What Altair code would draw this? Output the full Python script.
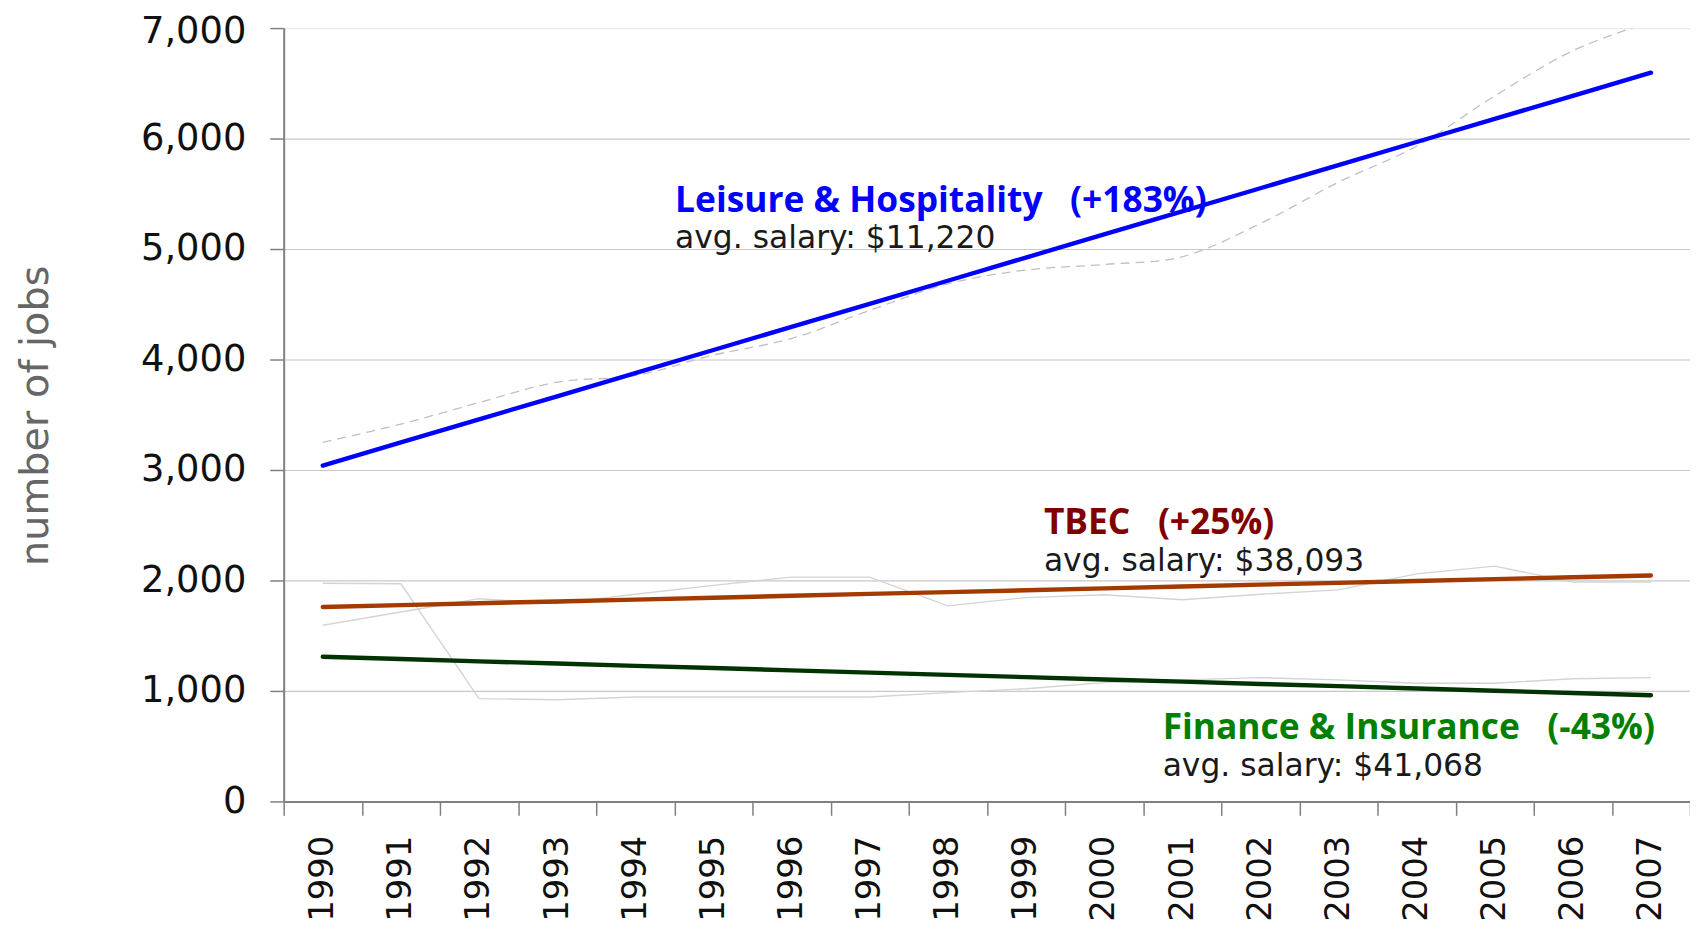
import altair as alt
import pandas as pd

# ---------------- data ----------------
years = ["1990", "1991", "1992", "1993", "1994", "1995", "1996", "1997", "1998",
         "1999", "2000", "2001", "2002", "2003", "2004", "2005", "2006", "2007"]

# trend lines
leisure_trend = [3040, 3249, 3458, 3667, 3877, 4086, 4295, 4504, 4713,
                 4923, 5132, 5341, 5550, 5759, 5969, 6178, 6387, 6596]
tbec_trend = [1760, 1777, 1794, 1810, 1827, 1844, 1861, 1878, 1894,
              1911, 1928, 1945, 1962, 1978, 1995, 2012, 2029, 2045]
finance_trend = [1309, 1289, 1268, 1248, 1227, 1207, 1186, 1166, 1145,
                 1125, 1104, 1084, 1063, 1043, 1022, 1002, 981, 961]

# actual (grey) series
leisure_actual = [3250, 3415, 3610, 3795, 3855, 4040, 4190, 4445, 4685,
                  4810, 4860, 4930, 5230, 5605, 5930, 6385, 6795, 7060]
tbec_actual = [1595, 1715, 1835, 1790, 1875, 1955, 2030, 2030, 1770,
               1845, 1870, 1825, 1875, 1915, 2060, 2130, 1985, 1985]
finance_actual = [1975, 1970, 930, 920, 945, 945, 945, 945, 985,
                  1020, 1075, 1100, 1120, 1100, 1070, 1070, 1110, 1120]

series_names = ["Leisure & Hospitality", "TBEC", "Finance & Insurance"]
anno_titles = ["Leisure & Hospitality\u00a0\u00a0 (+183%)", "TBEC\u00a0\u00a0 (+25%)",
               "Finance & Insurance\u00a0\u00a0 (-43%)"]
anno_salaries = ["avg. salary: $11,220", "avg. salary: $38,093", "avg. salary: $41,068"]
anno_x = [1994.51, 1999.23, 2000.75]      # in year units
anno_title_y = [5335, 2425, 565]          # in jobs
anno_salary_y = [5005, 2090, 226]         # in jobs

y_ticks = [0, 1000, 2000, 3000, 4000, 5000, 6000, 7000]

# ---------------- styles ----------------
trend_colors = ["#0000FF", "#A33A00", "#003300"]
label_colors = ["#0000FF", "#800000", "#008000"]
AXIS_FONT = "DejaVu Sans"

# ---------------- tables ----------------
trend_df = pd.DataFrame({
    "year": years * 3,
    "value": leisure_trend + tbec_trend + finance_trend,
    "series": [n for n in series_names for _ in years],
})
actual_df = pd.DataFrame({
    "year": years * 2,
    "value": tbec_actual + finance_actual,
    "series": [n for n in series_names[1:] for _ in years],
})
leisure_df = pd.DataFrame({"year": years, "value": leisure_actual})
title_df = pd.DataFrame({"series": series_names, "label": anno_titles,
                         "x": anno_x, "value": anno_title_y})
salary_df = pd.DataFrame({"series": series_names, "label": anno_salaries,
                          "x": anno_x, "value": anno_salary_y})

# ---------------- encodings ----------------
x_enc = alt.X(
    "year:O",
    scale=alt.Scale(type="band", paddingInner=0, paddingOuter=0),
    bandPosition=0.5,
    axis=alt.Axis(
        title=None, labelAngle=-90, labelFont=AXIS_FONT, labelFontSize=34,
        labelColor="#111111", labelPadding=20, labelOverlap=False,
        tickSize=14, tickBand="extent", tickColor="#808080", tickWidth=1.5,
        domainColor="#808080", domainWidth=2, grid=False,
    ),
)
y_scale = alt.Scale(domain=[0, 7000], nice=False, zero=True)
y_enc = alt.Y(
    "value:Q",
    scale=y_scale,
    axis=alt.Axis(
        title="number of jobs", values=y_ticks, format=",d",
        labelFont=AXIS_FONT, labelFontSize=37, labelColor="#111111",
        labelPadding=24, tickSize=14, tickColor="#808080", tickWidth=1.5,
        labelOffset={"condition": {"test": "datum.value >= 7000", "value": 3},
                     "value": 0},
        domainColor="#808080", domainWidth=2,
        grid=True,
        gridColor={"condition": {"test": "datum.value >= 7000", "value": "#ececec"},
                   "value": "#c8c8c8"},
        gridWidth=1.2,
        titleFont=AXIS_FONT, titleFontSize=40, titleFontWeight="normal",
        titleColor="#666666", titleAngle=-90, titleX=-249, titleY=389,
        titleAlign="center", titleBaseline="middle",
    ),
)
x_txt = alt.X("x:Q", scale=alt.Scale(domain=[1989.5, 2007.5], nice=False, zero=False),
              axis=None)

# ---------------- layers ----------------
actual = alt.Chart(actual_df).mark_line(color="#d4d4d4", strokeWidth=1.4).encode(
    x=x_enc, y=y_enc, detail="series:N")
leisure = alt.Chart(leisure_df).mark_line(
    color="#c0c0c0", strokeWidth=1.3, strokeDash=[9, 6],
    interpolate="catmull-rom", clip=True).encode(x=x_enc, y=y_enc)
trend = alt.Chart(trend_df).mark_line(strokeWidth=4.4, strokeCap="round").encode(
    x=x_enc, y=y_enc,
    color=alt.Color("series:N", scale=alt.Scale(domain=series_names, range=trend_colors),
                    legend=None))
lines = alt.layer(actual, leisure, trend)

titles = alt.Chart(title_df).mark_text(
    align="left", baseline="alphabetic", font="Open Sans", fontSize=35.5,
    fontWeight="bold").encode(
    x=x_txt, y=y_enc, text="label:N",
    color=alt.Color("series:N", scale=alt.Scale(domain=series_names, range=label_colors),
                    legend=None))
salaries = alt.Chart(salary_df).mark_text(
    align="left", baseline="alphabetic", font=AXIS_FONT, fontSize=31.5,
    color="#1a1a1a").encode(x=x_txt, y=y_enc, text="label:N")

chart = alt.layer(lines, titles, salaries).resolve_scale(
    x="independent", color="independent"
).properties(
    width=1413, height=777,
    autosize=alt.AutoSizeParams(type="none"),
    padding={"left": 277, "top": 18, "right": 0, "bottom": 120},
).configure_view(stroke=None).configure(background="white")

chart.save("out.html", embed_options={"renderer": "svg", "actions": False})
